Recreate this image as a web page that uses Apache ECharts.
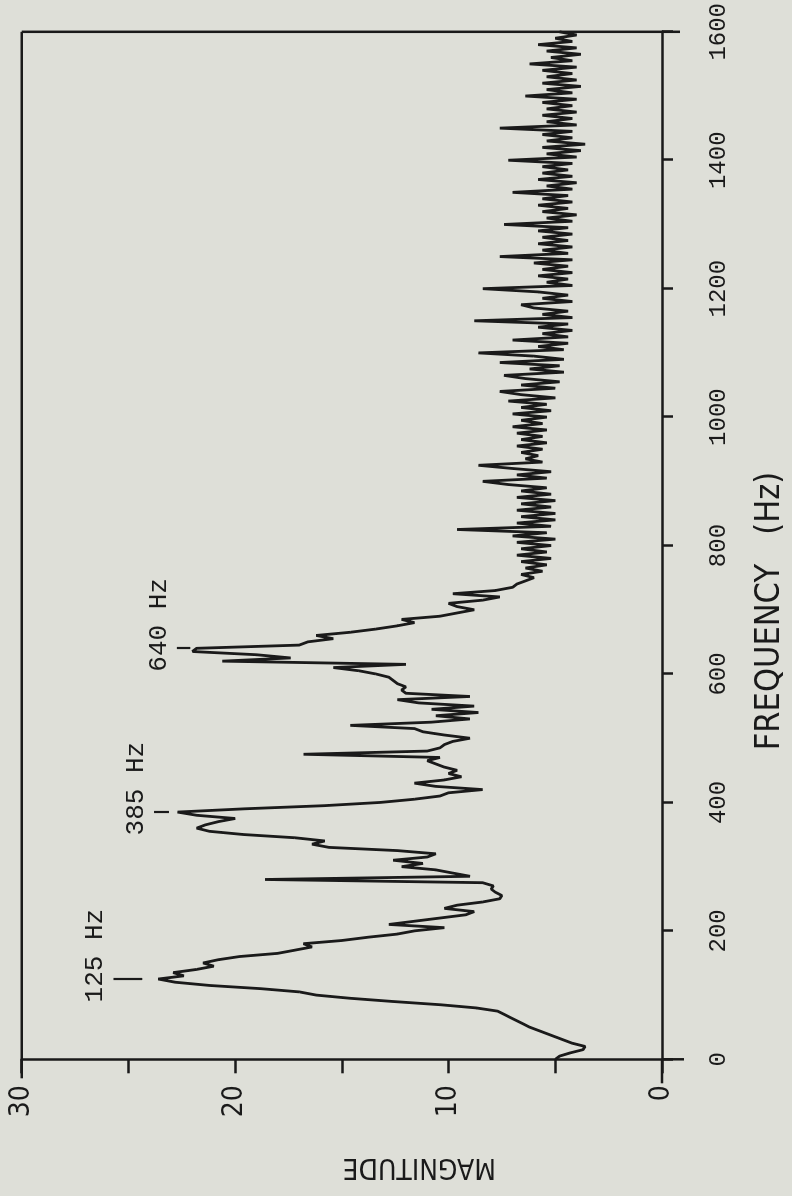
<!DOCTYPE html>
<html>
<head>
<meta charset="utf-8">
<script src="https://cdn.jsdelivr.net/npm/echarts@6/dist/echarts.min.js"></script>
<style>
  html, body { margin: 0; padding: 0; width: 792px; height: 1196px; overflow: hidden; background: #dedfd8; }
  /* The spectrum is laid out landscape and turned a quarter turn counter-clockwise onto the portrait page. */
  #chart { position: absolute; left: -202px; top: 202px; width: 1196px; height: 792px;
           transform: rotate(-90deg); transform-origin: 50% 50%; }
</style>
</head>
<body>
<div id="chart"></div>
<script>
// Magnitude spectrum sampled every 5 Hz.
const FREQ_STEP_HZ = 5;

// 0 - 750 Hz
const magLow = [
  5.0, 4.8, 4.3, 3.7, 3.6, 4.2, 4.6, 5.0, 5.4, 5.8,      // 0 - 45
  6.2, 6.5, 6.8, 7.1, 7.4, 7.7, 8.7, 10.4, 12.6, 14.6,   // 50 - 95
  16.2, 17.0, 18.8, 21.2, 22.8, 23.6, 22.4, 22.9, 21.8, 21.0, // 100 - 145
  21.5, 20.8, 19.8, 18.0, 17.2, 16.4, 16.8, 15.0, 13.8, 12.4, // 150 - 195
  11.6, 10.2, 12.8, 11.6, 10.4, 9.2, 8.8, 10.2, 9.6, 8.4,   // 200 - 245
  7.6, 7.5, 7.8, 8.0, 7.9, 8.4, 18.6, 9.0, 9.8, 10.6,       // 250 - 295
  12.2, 11.2, 12.6, 11.0, 10.6, 12.4, 15.6, 16.4, 15.8, 17.2, // 300 - 345
  19.6, 21.2, 21.8, 21.4, 20.8, 20.0, 21.8, 22.7, 19.6, 15.8, // 350 - 395
  13.2, 11.6, 10.4, 10.0, 8.4, 10.6, 11.6, 10.2, 9.4, 10.0,  // 400 - 445
  9.6, 10.2, 10.6, 11.0, 10.4, 16.8, 11.0, 10.4, 10.2, 9.8,  // 450 - 495
  9.0, 10.2, 11.2, 11.6, 14.6, 10.8, 9.0, 10.6, 8.6, 10.8,   // 500 - 545
  8.8, 11.4, 12.4, 9.0, 12.0, 12.2, 12.0, 12.4, 12.6, 12.8,  // 550 - 595
  13.4, 14.2, 15.4, 12.0, 20.6, 17.4, 19.0, 22.0, 21.8, 17.0, // 600 - 645
  16.6, 15.4, 16.2, 14.6, 13.4, 12.4, 11.6, 12.2, 10.4, 9.6, // 650 - 695
  8.8, 9.6, 10.0, 8.4, 7.6, 9.8, 7.8, 7.0, 6.8, 6.4,         // 700 - 745
  6.0                                                        // 750
];

// 755 - 1600 Hz
const magHigh = [
  6.6, 5.6, 6.4, 5.4, 6.6, 5.2, 6.8, 5.4, 6.6, 5.2,   // 755 - 800
  6.8, 5.0, 7.0, 5.4, 9.6, 5.2, 6.8, 5.0, 6.6, 5.0,   // 805 - 850
  6.8, 5.2, 6.6, 5.0, 6.8, 5.2, 6.6, 5.4, 7.2, 8.4,   // 855 - 900
  5.4, 6.8, 5.2, 7.0, 8.6, 5.6, 6.4, 5.8, 6.6, 5.6,   // 905 - 950
  6.8, 5.4, 6.6, 5.6, 6.8, 5.4, 7.0, 5.6, 6.6, 5.4,   // 955 - 1000
  7.0, 5.2, 6.6, 5.4, 7.2, 5.0, 6.6, 7.6, 5.0, 6.6,   // 1005 - 1050
  4.8, 6.4, 7.4, 4.6, 6.2, 4.8, 7.6, 4.6, 6.0, 8.6,   // 1055 - 1100
  4.6, 5.8, 4.4, 7.0, 4.4, 5.6, 4.2, 5.8, 4.4, 8.8,   // 1105 - 1150
  4.2, 5.6, 4.4, 6.0, 6.6, 4.2, 5.6, 4.4, 5.8, 8.4,   // 1155 - 1200
  4.2, 5.4, 4.4, 5.8, 4.2, 5.6, 4.4, 6.0, 4.2, 7.6,   // 1205 - 1250
  4.4, 5.6, 4.2, 5.8, 4.4, 5.6, 4.2, 5.8, 4.4, 7.4,   // 1255 - 1300
  4.2, 5.4, 4.0, 5.6, 4.4, 5.8, 4.2, 5.6, 4.4, 7.0,   // 1305 - 1350
  4.2, 5.4, 4.0, 5.8, 4.2, 5.6, 4.4, 5.6, 4.2, 7.2,   // 1355 - 1400
  4.0, 5.4, 3.8, 5.6, 3.6, 5.4, 4.2, 5.6, 4.2, 7.6,   // 1405 - 1450
  4.0, 5.4, 4.2, 5.6, 4.0, 5.4, 4.2, 5.6, 4.0, 6.4,   // 1455 - 1500
  4.2, 5.4, 3.8, 5.6, 4.0, 5.4, 4.2, 5.6, 4.0, 6.2,   // 1505 - 1550
  4.2, 5.2, 3.8, 5.4, 4.0, 5.8, 4.2, 5.0, 4.0, 4.8    // 1555 - 1600
];

// Annotated formant peaks (Hz)
const peakFreqs = [125, 385, 640];

// Axis tick labels
const magLabelStep = 10;

const INK = '#1a1a1a';
const MONO = '"Liberation Mono", "DejaVu Sans Mono", monospace';
const NARROW = '"Liberation Sans Narrow", "DejaVu Sans Condensed", "Roboto Condensed", "Liberation Sans", sans-serif';

// Peak marker placement: [gap above the peak, top of marker], in magnitude units above the peak value
const MARKER_SPAN = { 125: [0.75, 2.1], 385: [0.4, 1.1], 640: [0.3, 0.93] };

const magnitudes = magLow.concat(magHigh);
const spectrum = magnitudes.map((m, i) => [i * FREQ_STEP_HZ, m]);
const magAt = f => magnitudes[Math.round(f / FREQ_STEP_HZ)];

const LABEL_SIZE = 26;
const chart = echarts.init(document.getElementById('chart'), null, { renderer: 'canvas' });

chart.setOption({
  animation: false,
  backgroundColor: '#dedfd8',
  grid: { left: 136.7, right: 28.3, top: 21.7, bottom: 129.5, show: false },
  xAxis: {
    type: 'value', min: 0, max: 1600, interval: 200,
    axisLine: { show: true, onZero: false, lineStyle: { color: INK, width: 2.5 } },
    axisTick: { show: true, length: 11, lineStyle: { color: INK, width: 2.5 } },
    axisLabel: { fontFamily: MONO, fontSize: 24, color: INK, margin: 45, formatter: v => String(v) },
    splitLine: { show: false },
    name: 'FREQUENCY   (Hz)', nameLocation: 'middle', nameGap: 91,
    nameTextStyle: { fontFamily: NARROW, fontSize: 34, color: INK, padding: [0, 131, 0, 0] }
  },
  yAxis: {
    type: 'value', min: 0, max: 30, interval: 5,
    axisLine: { show: true, onZero: false, lineStyle: { color: INK, width: 2.5 } },
    axisTick: { show: true, length: 14, lineStyle: { color: INK, width: 2.5 } },
    axisLabel: {
      fontFamily: NARROW, fontSize: 28, color: INK, margin: 26,
      formatter: v => (v % magLabelStep === 0 ? String(v) : '')
    },
    splitLine: { show: false },
    name: 'MAGNITUDE', nameLocation: 'middle', nameRotate: 90, nameGap: 93,
    nameTextStyle: { fontFamily: NARROW, fontSize: 28, color: INK, padding: [0, 155, 0, 0] }
  },
  series: [{
    type: 'line',
    data: spectrum,
    showSymbol: false,
    lineStyle: { color: INK, width: 2.8 },
    markLine: {
      silent: true,
      symbol: ['none', 'none'],
      lineStyle: { color: INK, width: 2.2, type: 'solid' },
      label: {
        show: true, position: 'end', distance: 5,
        fontFamily: MONO, fontSize: LABEL_SIZE, color: INK,
        // left padding of three character cells keeps the number centred on its marker
        padding: [0, 0, 0, 3 * 0.6 * LABEL_SIZE],
        formatter: p => p.name
      },
      data: peakFreqs.map(f => [
        { name: f + ' Hz', coord: [f, magAt(f) + MARKER_SPAN[f][0]] },
        { coord: [f, magAt(f) + MARKER_SPAN[f][1]] }
      ])
    }
  }]
});

// Plot frame: closed box whose lines run a little past the lower-left corner.
function drawFrame() {
  const p0 = chart.convertToPixel({ gridIndex: 0 }, [0, 0]);
  const p1 = chart.convertToPixel({ gridIndex: 0 }, [1600, 30]);
  const st = { stroke: INK, lineWidth: 2.5 };
  chart.setOption({
    graphic: [
      { type: 'line', shape: { x1: p0[0] - 19, y1: p1[1], x2: p1[0], y2: p1[1] }, style: st },
      { type: 'line', shape: { x1: p1[0], y1: p1[1], x2: p1[0], y2: p0[1] + 18 }, style: st },
      { type: 'line', shape: { x1: p0[0] - 24, y1: p0[1], x2: p0[0], y2: p0[1] }, style: st },
      { type: 'line', shape: { x1: p0[0], y1: p0[1], x2: p0[0], y2: p0[1] + 22 }, style: st }
    ]
  });
}
drawFrame();
</script>
</body>
</html>
